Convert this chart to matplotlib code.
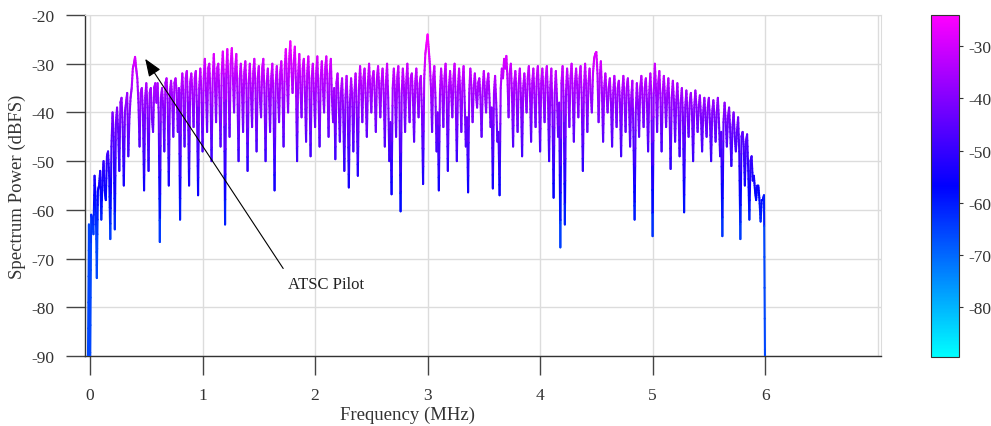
import numpy as np
import matplotlib
matplotlib.use('Agg')
import matplotlib.pyplot as plt
from matplotlib.collections import LineCollection
from matplotlib.colors import LinearSegmentedColormap, Normalize
from matplotlib.cm import ScalarMappable

plt.rcParams['font.family'] = ['Liberation Serif', 'DejaVu Serif']

# Spectrum samples, 0.01 MHz apart starting at -0.02 MHz (dBFS)
freq_start_mhz = -0.02
freq_step_mhz = 0.01
power_dbfs = [
    -95, -63,
    -95, -61, -62, -65, -53, -58, -74, -56, -55, -52, -62, -54, -50, -56, -58, -49, -48, -53, -66, -47,
    -40, -45, -64, -42, -39, -44, -52, -38, -37, -43, -55, -40, -38, -36, -49, -41, -37, -35, -31, -30,
    -28.6, -31, -33, -38, -47, -36, -35, -40, -56, -37, -34, -39, -52, -36, -35, -41, -44, -35, -34, -38,
    -34, -40, -66.6, -37, -35, -39, -48, -34, -33, -38, -55, -36, -33.5, -37, -45, -34, -33, -36, -44, -35,
    -62, -36, -32, -37, -47, -33, -31.5, -38, -55, -34, -32, -36, -43, -33, -31.5, -39, -57, -35, -31, -36,
    -48, -33, -29, -35, -44, -31, -30, -36, -50, -33, -28, -34, -42, -31, -30, -37, -47, -32, -27.5, -33,
    -63, -32, -27, -34, -45, -30, -26.8, -33, -40, -31, -28, -36, -50, -33, -30, -35, -44, -32, -29.5, -35,
    -52, -34, -30, -36, -43, -32, -29, -35, -48, -33, -30.5, -37, -41, -31, -29, -36, -50, -34, -31, -36,
    -44, -33, -30, -37, -56, -34, -30.5, -36, -42, -32, -29.5, -35, -47, -31, -27, -33, -40, -29, -25.4, -31,
    -36, -30, -26.5, -34, -50, -32, -28, -35, -41, -31, -29, -36, -46, -32, -28.5, -35, -49, -33, -30, -36,
    -43, -32, -28.5, -36, -47, -33, -29.5, -35, -40, -31, -28.5, -34, -45, -32, -29, -37, -42, -35, -49.6, -34,
    -32, -38, -46, -36, -33, -40, -52, -37, -32.5, -39, -55.4, -38, -33, -37, -48, -36, -32, -39, -53, -35,
    -30.5, -35, -42, -33, -31, -37, -45, -34, -30, -35, -40, -33, -31.5, -36, -44, -33, -30.5, -35, -41, -34,
    -31, -36, -47, -34, -30, -37, -50, -42, -56.8, -35, -31, -36, -45, -33, -30.5, -38, -60.3, -36, -31, -35,
    -44, -34, -30, -36, -42, -33, -32, -37, -46, -34, -31, -36, -41, -34, -32.5, -40, -54.7, -33, -28, -26,
    -24, -27, -30, -35, -44, -33, -30.5, -37, -48, -40, -56, -36, -31, -35, -43, -33, -30, -37, -52, -35,
    -31.5, -36, -41, -33, -30, -37, -50, -35, -31, -36, -44, -34, -30.5, -38, -47, -41, -56.4, -36, -31, -35,
    -42, -35, -32, -36, -39, -34, -33, -37, -45, -35, -31.5, -36, -40, -34, -32, -37, -43, -39, -55.6, -36,
    -32.5, -38, -46, -44, -57, -35, -31, -33, -29, -31, -28.4, -33, -41, -32, -30, -36, -47, -34, -31.5, -36,
    -44, -34, -31, -37, -49, -35, -32, -36, -40, -33, -30.5, -36, -46, -34, -31, -37, -43, -33, -30.5, -36,
    -48, -34, -31, -36, -42, -33, -30.5, -37, -50, -35, -31, -40, -57.5, -36, -31.5, -37, -45, -38, -67.7, -34,
    -30.5, -38, -63, -36, -31, -35, -43, -33, -30, -36, -46, -34, -31, -35, -41, -33, -30.5, -37, -52, -35,
    -30, -35, -44, -34, -31, -36, -40, -32, -29, -28, -27.6, -32, -42, -33, -29.5, -36, -46, -35, -32, -36,
    -40, -35, -33, -38, -47, -36, -32.5, -37, -43, -35, -33.5, -38, -49, -36, -32.5, -37, -44, -35, -33, -38,
    -47, -37, -33.5, -45, -62, -40, -34, -38, -45, -35, -32.5, -37, -43, -35, -33, -38, -48, -36, -32, -37,
    -65.4, -36, -30, -35, -44, -34, -31.5, -37, -48, -36, -32.5, -37, -43, -36, -33, -39, -51.6, -37, -33.5, -38,
    -46, -38, -34, -39, -49, -38, -35, -41, -60.5, -39, -35.5, -40, -45, -38, -36, -40, -50, -39, -35.5, -39,
    -44, -39, -36.5, -41, -48, -40, -37, -41, -45, -39, -37, -42, -50, -40, -37.5, -41, -46, -40, -37, -42,
    -49, -44, -65.4, -42, -38, -42, -47, -41, -39, -44, -51, -43, -40, -45, -48, -44, -41, -48, -66, -45,
    -44, -47, -55, -46, -44.5, -52, -62, -50, -49, -54, -53, -56, -58, -55, -55, -58, -62.4, -58, -58, -57,
    -95,
]
freq_mhz = freq_start_mhz + np.arange(len(power_dbfs)) * freq_step_mhz
power = np.array(power_dbfs, dtype=float)

x_ticks = [0, 1, 2, 3, 4, 5, 6]
y_ticks = [-90, -80, -70, -60, -50, -40, -30, -20]
cbar_ticks = [-80, -70, -60, -50, -40, -30]
pilot_mhz, pilot_dbfs = 0.49, -29.0

# cyan -> blue -> magenta colour scale
cmap = LinearSegmentedColormap.from_list('cbm', ['#00ffff', '#0000ff', '#ff00ff'])
cmin, cmax = -89.6, -24.0
norm = Normalize(vmin=cmin, vmax=cmax)

fig = plt.figure(figsize=(9.91, 4.27), dpi=100)
ax = fig.add_axes([85 / 991, 70 / 427, 796 / 991, 341 / 427])
cax = fig.add_axes([931 / 991, 69 / 427, 28 / 991, 342 / 427])

# colour each segment along its length so steep drops shade toward blue
n_sub = 6
t = np.linspace(0, 1, n_sub + 1)
xs = freq_mhz[:-1, None] + np.diff(freq_mhz)[:, None] * t
ys = power[:-1, None] + np.diff(power)[:, None] * t
p0 = np.stack([xs[:, :-1], ys[:, :-1]], axis=-1).reshape(-1, 2)
p1 = np.stack([xs[:, 1:], ys[:, 1:]], axis=-1).reshape(-1, 2)
segs = np.stack([p0, p1], axis=1)
seg_val = np.clip((p0[:, 1] + p1[:, 1]) / 2, -66, cmax)
lc = LineCollection(segs, colors=cmap(norm(seg_val)), linewidths=1.5,
                    capstyle='round', zorder=3)
ax.add_collection(lc)

ax.set_xlim(-0.045, 7.03)
ax.set_ylim(-90, -20)
ax.set_xticks(x_ticks)
ax.set_yticks(y_ticks)
ax.set_xticklabels([str(v) for v in x_ticks])
ax.set_yticklabels([str(v) for v in y_ticks])
ax.grid(True, color='#dcdcdc', linewidth=1.0, zorder=0)
ax.axvline(7, color='#dcdcdc', linewidth=1.0, zorder=0)
ax.set_axisbelow(True)
ax.tick_params(axis='both', direction='out', length=14, width=1.0,
               color='#444444', labelsize=12.5, labelcolor='#333333', pad=8)
for side in ['left', 'bottom']:
    ax.spines[side].set_color('#333333')
    ax.spines[side].set_linewidth(1.0)
for side in ['top', 'right']:
    ax.spines[side].set_color('#dcdcdc')

ax.set_xlabel('Frequency (MHz)', fontsize=13.5, color='#333333')
ax.xaxis.set_label_coords(0.405, -0.145)
ax.set_ylabel('Spectrum Power (dBFS)', fontsize=13.5, color='#333333')

ax.annotate('ATSC Pilot', xy=(pilot_mhz, pilot_dbfs), xytext=(1.76, -75.2),
            fontsize=12, color='#222222', ha='left', va='center',
            arrowprops=dict(arrowstyle='-|>,head_length=0.9,head_width=0.35',
                            color='black', lw=0.8, relpos=(0, 1),
                            shrinkA=4, shrinkB=0))

cb = fig.colorbar(ScalarMappable(norm=norm, cmap=cmap), cax=cax)
cb.set_ticks(cbar_ticks)
cb.set_ticklabels([str(v) for v in cbar_ticks])
cb.ax.tick_params(length=3, labelsize=12.5, labelcolor='#333333', color='#333333')
cb.outline.set_edgecolor('#333333')

fig.savefig('out.png', dpi=100)
